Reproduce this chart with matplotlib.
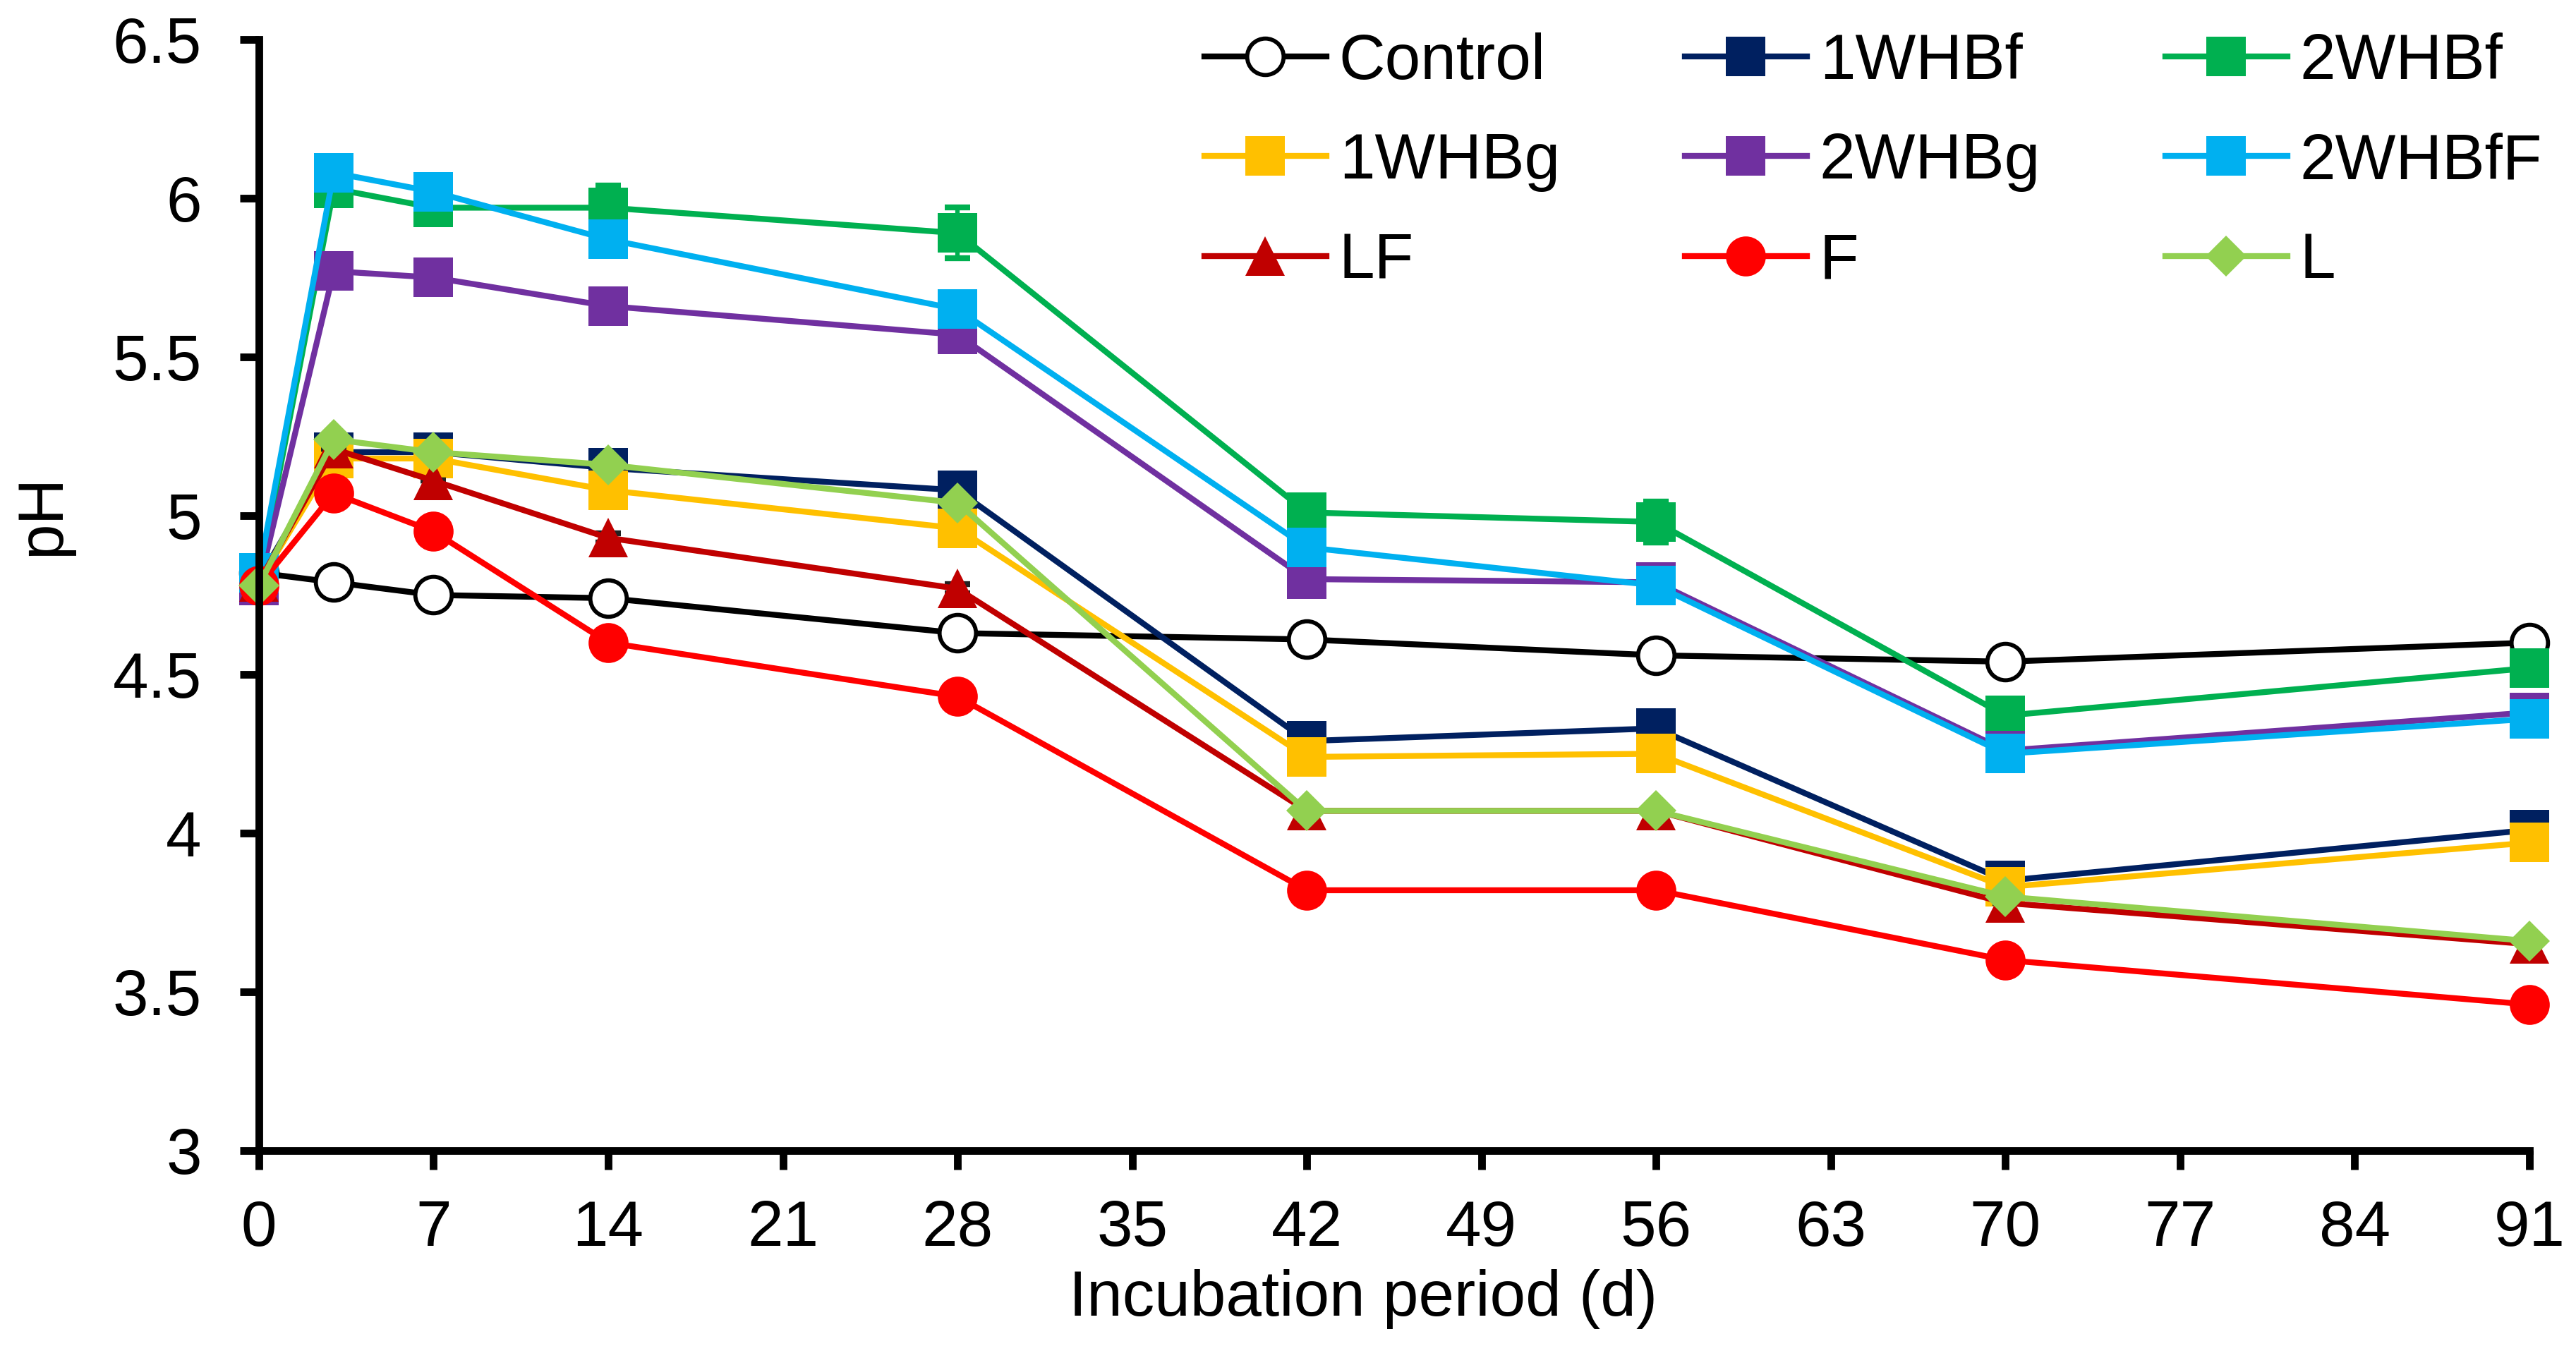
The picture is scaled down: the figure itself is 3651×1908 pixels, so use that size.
import numpy as np
import matplotlib.pyplot as plt

plt.rcParams['font.family'] = ['Liberation Sans', 'DejaVu Sans']

# incubation days and pH readings per treatment
days = [0, 3, 7, 14, 28, 42, 56, 70, 91]

ph_control = [4.82, 4.79, 4.75, 4.74, 4.63, 4.61, 4.56, 4.54, 4.60]
ph_1whbf = [4.80, 5.20, 5.20, 5.15, 5.08, 4.29, 4.33, 3.85, 4.01]
ph_2whbf = [4.80, 6.03, 5.97, 5.97, 5.89, 5.01, 4.98, 4.37, 4.52]
ph_1whbg = [4.79, 5.18, 5.18, 5.08, 4.96, 4.24, 4.25, 3.83, 3.97]
ph_2whbg = [4.78, 5.77, 5.75, 5.66, 5.57, 4.80, 4.79, 4.26, 4.38]
ph_2whbff = [4.82, 6.08, 6.02, 5.87, 5.65, 4.90, 4.78, 4.25, 4.36]
ph_lf = [4.79, 5.21, 5.11, 4.93, 4.77, 4.07, 4.07, 3.78, 3.65]
ph_f = [4.78, 5.07, 4.95, 4.60, 4.43, 3.82, 3.82, 3.60, 3.46]
ph_l = [4.78, 5.24, 5.20, 5.16, 5.04, 4.07, 4.07, 3.80, 3.66]

# standard errors that stick out from behind the markers
err_2whbf = [0, 0, 0, 0.07, 0.08, 0, 0.065, 0, 0]
err_lf = [0, 0, 0, 0.015, 0.015, 0, 0, 0, 0]

labels = ["Control", "1WHBf", "2WHBf", "1WHBg", "2WHBg", "2WHBfF", "LF", "F", "L"]
series = [ph_control, ph_1whbf, ph_2whbf, ph_1whbg, ph_2whbg, ph_2whbff, ph_lf, ph_f, ph_l]
errors = {"2WHBf": err_2whbf, "LF": err_lf}
colors = ["#000000", "#002060", "#00B050", "#FFC000", "#7030A0", "#00B0F0",
          "#C00000", "#FF0000", "#92D050"]
markers = ["o", "s", "s", "s", "s", "s", "^", "o", "D"]

x_ticks = np.arange(0, 92, 7)
y_ticks = [3, 3.5, 4, 4.5, 5, 5.5, 6, 6.5]
y_ticklabels = ["3", "3.5", "4", "4.5", "5", "5.5", "6", "6.5"]

fs = 21.8
fig = plt.figure(figsize=(12.17, 6.36), dpi=300)
ax = fig.add_axes([0.1005, 0.1452, 0.8814, 0.8255])

handles = []
for lab, vals, col, mk in zip(labels, series, colors, markers):
    ms = 9.8 if mk == "D" else 13.6
    if lab == "Control":
        mfc, mec, mew, ms = "white", "black", 1.4, 12.4
    else:
        mfc, mec, mew = col, col, 0
    if lab in errors:
        ax.errorbar(days, vals, yerr=errors[lab], fmt="none",
                    ecolor=col if lab != "LF" else "#222222",
                    elinewidth=1.5, capsize=4.4, capthick=2.0, clip_on=False)
    ln, = ax.plot(days, vals, color=col, lw=2.0, marker=mk, ms=ms,
                  mfc=mfc, mec=mec, mew=mew, label=lab, clip_on=False)
    handles.append(ln)

ax.set_xlim(0, 91)
ax.set_ylim(3, 6.5)
ax.set_xticks(x_ticks)
ax.set_yticks(y_ticks)
ax.set_yticklabels(y_ticklabels)

for side in ["top", "right"]:
    ax.spines[side].set_visible(False)
for side in ["left", "bottom"]:
    ax.spines[side].set_linewidth(2.6)
ax.tick_params(axis="y", direction="out", length=6.5, width=2.6, pad=13, labelsize=fs)
ax.tick_params(axis="x", direction="out", length=6.5, width=2.6, pad=10, labelsize=fs)

fig.text(61 / 3651, 1 - 730 / 1908, "pH", rotation=90, ha="center", va="center", fontsize=fs)
fig.text(1932 / 3651, 1 - 1842 / 1908, "Incubation period (d)", ha="center", va="center", fontsize=fs)

# legend is filled row by row in the original
order = [0, 3, 6, 1, 4, 7, 2, 5, 8]
fig.legend([handles[i] for i in order], [labels[i] for i in order],
           loc="upper left", bbox_to_anchor=(1707 / 3651, 0.976), ncol=3,
           frameon=False, fontsize=fs, handlelength=1.9, handletextpad=0.2,
           columnspacing=1.95, labelspacing=0.62, borderpad=0, borderaxespad=0)

fig.savefig("out.png", dpi=300)
